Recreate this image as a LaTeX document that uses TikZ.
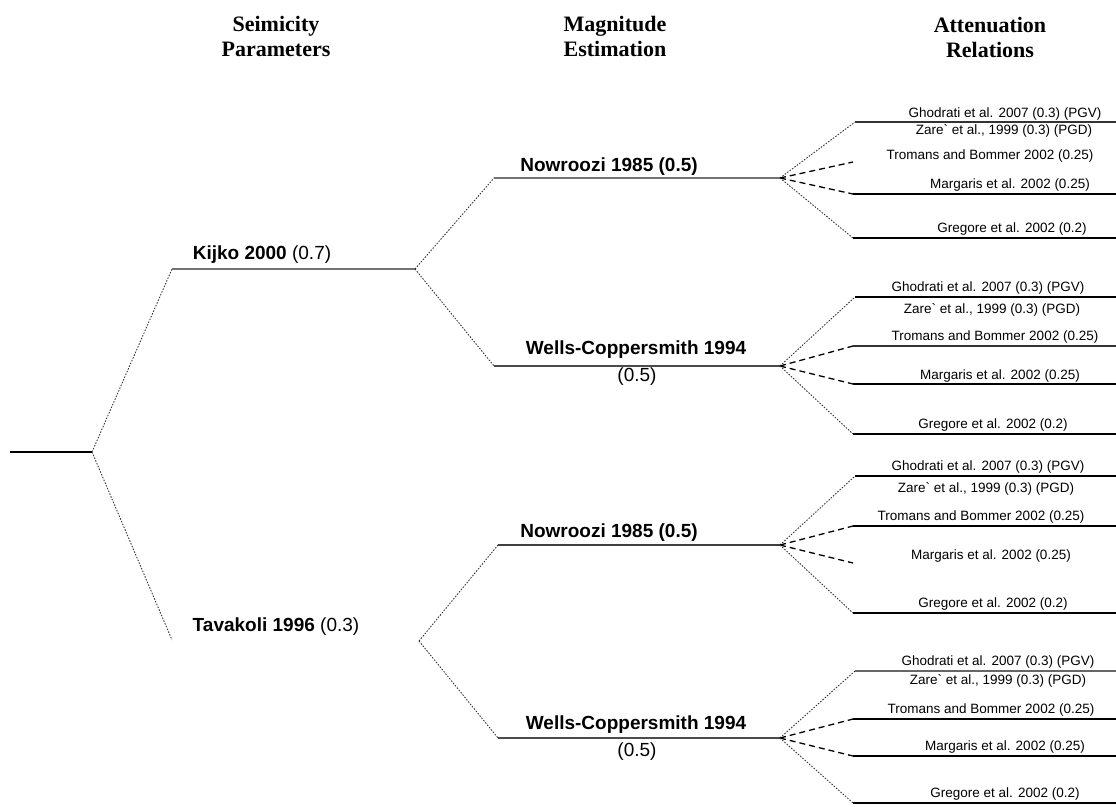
\documentclass[tikz,border=0pt]{standalone}
\usepackage{fontspec}
\setmainfont{Liberation Sans}
\newfontfamily\hdrfont{Liberation Serif}
\begin{document}
\begin{tikzpicture}[x=1pt,y=-1pt,
  hdr/.style={font=\hdrfont\bfseries\fontsize{22}{25}\selectfont, align=center, inner sep=0pt},
  lbl/.style={font=\fontsize{19}{22}\selectfont, inner sep=0pt},
  att/.style={font=\fontsize{13.5}{15}\selectfont, inner sep=0pt, text=black},
  dotline/.style={black!80, line width=0.9pt, dash pattern=on 1.5pt off 1.5pt},
  dashline/.style={black, line width=1.3pt, dash pattern=on 6pt off 4pt},
  thinbranch/.style={black!55, line width=1.1pt},
  thickbranch/.style={black!70, line width=2.2pt},
  midbranch/.style={black!75, line width=1.6pt},
  leafline/.style={black, line width=1.4pt},
  leafthin/.style={black!80, line width=1.1pt},
  leafthick/.style={black!60, line width=2.6pt}
]
\useasboundingbox (0,0) rectangle (1116,806);

% headers
\node[hdr] (h1) at (276,36) {Seimicity\\Parameters};
\node[hdr] (h2) at (615,36) {Magnitude\\Estimation};
\node[hdr] (h3) at (990,37) {Attenuation\\Relations};

% tree coordinates
\coordinate (r0) at (10,452);
\coordinate (r) at (92,452);
\coordinate (kA) at (172,269);
\coordinate (kB) at (415,269);
\coordinate (tA) at (172,640);
\coordinate (tB) at (419,641);
\coordinate (nA) at (494,178);
\coordinate (nB) at (780,178);
\coordinate (wA) at (494,366);
\coordinate (wB) at (780,366);
\coordinate (n2A) at (498,545);
\coordinate (n2B) at (780,545);
\coordinate (w2A) at (498,738);
\coordinate (w2B) at (780,738);

\draw[leafline] (r0) -- (r);
\draw[dotline] (r) -- (kA);
\draw[dotline] (r) -- (tA);
\draw[thinbranch] (kA) -- (kB);
\draw[dotline] (kB) -- (nA);
\draw[dotline] (kB) -- (wA);
\draw[thinbranch] (nA) -- (nB);
\draw[thickbranch] (wA) -- (wB);
\draw[dotline] (tB) -- (n2A);
\draw[dotline] (tB) -- (w2A);
\draw[midbranch] (n2A) -- (n2B);
\draw[thickbranch] (w2A) -- (w2B);

% labels on the tree
\node[lbl] (kij) at (262,255) {\bfseries Kijko 2000 \mdseries(0.7)};
\node[lbl] (tav) at (276,627) {\bfseries Tavakoli 1996 \mdseries(0.3)};
\node[lbl] (now1) at (609,167) {\bfseries Nowroozi 1985 (0.5)};
\node[lbl] (wel1) at (636,350) {\bfseries Wells-Coppersmith 1994};
\node[lbl] (wel1p) at (637,377) {(0.5)};
\node[lbl] (now2) at (609,533) {\bfseries Nowroozi 1985 (0.5)};
\node[lbl] (wel2) at (636,725) {\bfseries Wells-Coppersmith 1994};
\node[lbl] (wel2p) at (637,752) {(0.5)};

% group 1
\coordinate (g1a) at (855,122); \coordinate (g1aE) at (1116,122);
\coordinate (g1b) at (853,162);
\coordinate (g1c) at (853,194); \coordinate (g1cE) at (1116,194);
\coordinate (g1d) at (853,238); \coordinate (g1dE) at (1116,238);
\draw[dotline] (nB) -- (g1a);
\draw[dashline] (nB) -- (g1b);
\draw[dashline] (nB) -- (g1c);
\draw[dotline] (nB) -- (g1d);
\draw[leafthin] (g1a) -- (g1aE);
\draw[leafline] (g1c) -- (g1cE);
\draw[leafline] (g1d) -- (g1dE);
\node[att] (g1t1) at (1005,114) {Ghodrati et al. 2007 (0.3) (PGV)};
\node[att] (g1t2) at (1004,131) {Zare\textasciigrave\ et al., 1999 (0.3) (PGD)};
\node[att] (g1t3) at (990,156) {Tromans and Bommer 2002 (0.25)};
\node[att] (g1t4) at (1010,185) {Margaris et al. 2002 (0.25)};
\node[att] (g1t5) at (1012,229) {Gregore et al. 2002 (0.2)};

% group 2
\coordinate (g2a) at (855,297); \coordinate (g2aE) at (1116,297);
\coordinate (g2b) at (853,346); \coordinate (g2bE) at (1116,346);
\coordinate (g2c) at (853,384); \coordinate (g2cE) at (1116,384);
\coordinate (g2d) at (853,434); \coordinate (g2dE) at (1116,434);
\draw[dotline] (wB) -- (g2a);
\draw[dashline] (wB) -- (g2b);
\draw[dashline] (wB) -- (g2c);
\draw[dotline] (wB) -- (g2d);
\draw[leafline] (g2a) -- (g2aE);
\draw[leafthin] (g2b) -- (g2bE);
\draw[leafline] (g2c) -- (g2cE);
\draw[leafline] (g2d) -- (g2dE);
\node[att] (g2t1) at (988,288) {Ghodrati et al. 2007 (0.3) (PGV)};
\node[att] (g2t2) at (992,310) {Zare\textasciigrave\ et al., 1999 (0.3) (PGD)};
\node[att] (g2t3) at (995,337) {Tromans and Bommer 2002 (0.25)};
\node[att] (g2t4) at (1000,376) {Margaris et al. 2002 (0.25)};
\node[att] (g2t5) at (993,425) {Gregore et al. 2002 (0.2)};

% group 3
\coordinate (g3a) at (855,476); \coordinate (g3aE) at (1116,476);
\coordinate (g3b) at (853,526); \coordinate (g3bE) at (1116,526);
\coordinate (g3c) at (853,563);
\coordinate (g3d) at (853,613); \coordinate (g3dE) at (1116,613);
\draw[dotline] (n2B) -- (g3a);
\draw[dashline] (n2B) -- (g3b);
\draw[dashline] (n2B) -- (g3c);
\draw[dotline] (n2B) -- (g3d);
\draw[leafline] (g3a) -- (g3aE);
\draw[leafline] (g3b) -- (g3bE);
\draw[leafline] (g3d) -- (g3dE);
\node[att] (g3t1) at (988,467) {Ghodrati et al. 2007 (0.3) (PGV)};
\node[att] (g3t2) at (986,489) {Zare\textasciigrave\ et al., 1999 (0.3) (PGD)};
\node[att] (g3t3) at (981,517) {Tromans and Bommer 2002 (0.25)};
\node[att] (g3t4) at (991,556) {Margaris et al. 2002 (0.25)};
\node[att] (g3t5) at (993,604) {Gregore et al. 2002 (0.2)};

% group 4
\coordinate (g4a) at (855,671); \coordinate (g4aE) at (1116,671);
\coordinate (g4b) at (853,719); \coordinate (g4bE) at (1116,719);
\coordinate (g4c) at (853,756); \coordinate (g4cE) at (1116,756);
\coordinate (g4d) at (853,803); \coordinate (g4dE) at (1116,803);
\draw[dotline] (w2B) -- (g4a);
\draw[dashline] (w2B) -- (g4b);
\draw[dashline] (w2B) -- (g4c);
\draw[dotline] (w2B) -- (g4d);
\draw[leafthick] (g4a) -- (g4aE);
\draw[leafline] (g4b) -- (g4bE);
\draw[leafline] (g4c) -- (g4cE);
\draw[leafline] (g4d) -- (g4dE);
\node[att] (g4t1) at (998,662) {Ghodrati et al. 2007 (0.3) (PGV)};
\node[att] (g4t2) at (998,681) {Zare\textasciigrave\ et al., 1999 (0.3) (PGD)};
\node[att] (g4t3) at (991,710) {Tromans and Bommer 2002 (0.25)};
\node[att] (g4t4) at (1005,747) {Margaris et al. 2002 (0.25)};
\node[att] (g4t5) at (1005,794) {Gregore et al. 2002 (0.2)};
\end{tikzpicture}
\end{document}
